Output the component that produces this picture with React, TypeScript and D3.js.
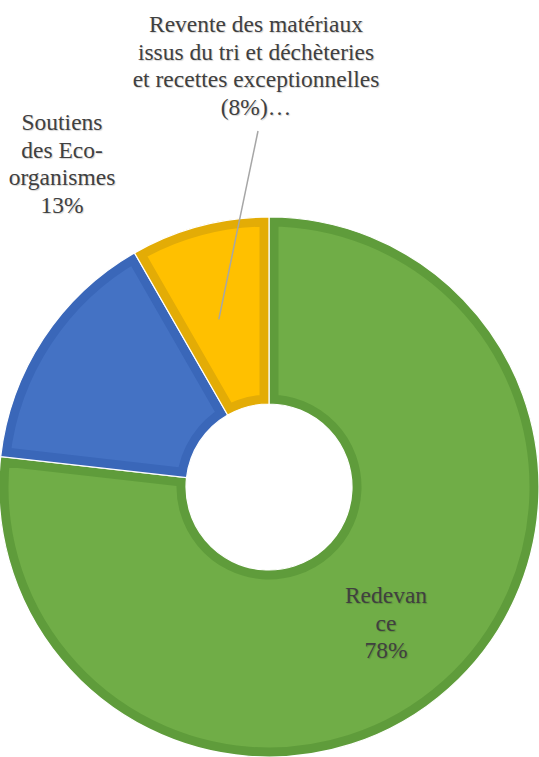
import React from 'react'
import { arc, pie, PieArcDatum } from 'd3'

const categories = ['Redevance', 'Soutiens des Eco-organismes', 'Revente des matériaux issus du tri et déchèteries et recettes exceptionnelles']
const shares = [76.8, 14.9, 8.3]
const fills = ['#70AD47', '#4472C4', '#FFC000']
const borders = ['#5F9C3B', '#3A67B9', '#E3AC06']

const redevanceLines = ['Redevan', 'ce', '78%']
const soutiensLines = ['Soutiens', 'des Eco-', 'organismes', '13%']
const reventeLines = ['Revente des matériaux', 'issus du tri et déchèteries', 'et recettes exceptionnelles', '(8%)…']

const W = 539
const H = 757
const cx = 269
const cy = 487
const outerR = 270
const innerR = 83
const lineH = 27.7

type Slice = { name: string; value: number; i: number }

const Label = ({ lines, x, y }: { lines: string[]; x: number; y: number }) => (
  <text
    x={x}
    y={y}
    textAnchor="middle"
    fontFamily="Liberation Serif, Times New Roman, Liberation Sans, serif"
    fontSize={23.5}
    fill="#404040"
    style={{ textShadow: '1px 1px 1px rgba(0,0,0,0.18)' }}
  >
    {lines.map((l, i) => (
      <tspan key={i} x={x} y={y + i * lineH}>{l}</tspan>
    ))}
  </text>
)

const App = () => {
  const data: Slice[] = categories.map((name, i) => ({ name, value: shares[i], i }))
  const layout = pie<Slice>().value(d => d.value).sort(null).startAngle(0).endAngle(Math.PI * 2)
  const arcs = layout(data)
  const arcGen = arc<PieArcDatum<Slice>>().innerRadius(innerR).outerRadius(outerR)

  // leader line for the small slice: from slice interior up to the label
  const rev = arcs[2]
  const mid = (rev.startAngle + rev.endAngle) / 2
  const lr = 175
  const lx = cx + Math.sin(mid - 0.03) * lr
  const ly = cy - Math.cos(mid - 0.03) * lr

  return (
    <svg width={W} height={H} style={{ position: 'absolute', left: 0, top: 0, background: '#fff' }}>
      <defs>
        {arcs.map((a, i) => (
          <clipPath id={`clip-${i}`} key={i}>
            <path d={arcGen(a) || ''} />
          </clipPath>
        ))}
      </defs>
      <g transform={`translate(${cx},${cy})`}>
        {arcs.map((a, i) => (
          <g key={i}>
            <path
              d={arcGen(a) || ''}
              fill={fills[i]}
              stroke={borders[i]}
              strokeWidth={19}
              clipPath={`url(#clip-${i})`}
            />
            <path d={arcGen(a) || ''} fill="none" stroke="#ffffff" strokeWidth={1.2} />
          </g>
        ))}
      </g>
      <line x1={258} y1={131} x2={lx} y2={ly} stroke="#A6A6A6" strokeWidth={1.5} />
      <Label lines={reventeLines} x={256} y={32} />
      <Label lines={soutiensLines} x={62} y={130} />
      <Label lines={redevanceLines} x={386} y={603} />
    </svg>
  )
}

export default App
